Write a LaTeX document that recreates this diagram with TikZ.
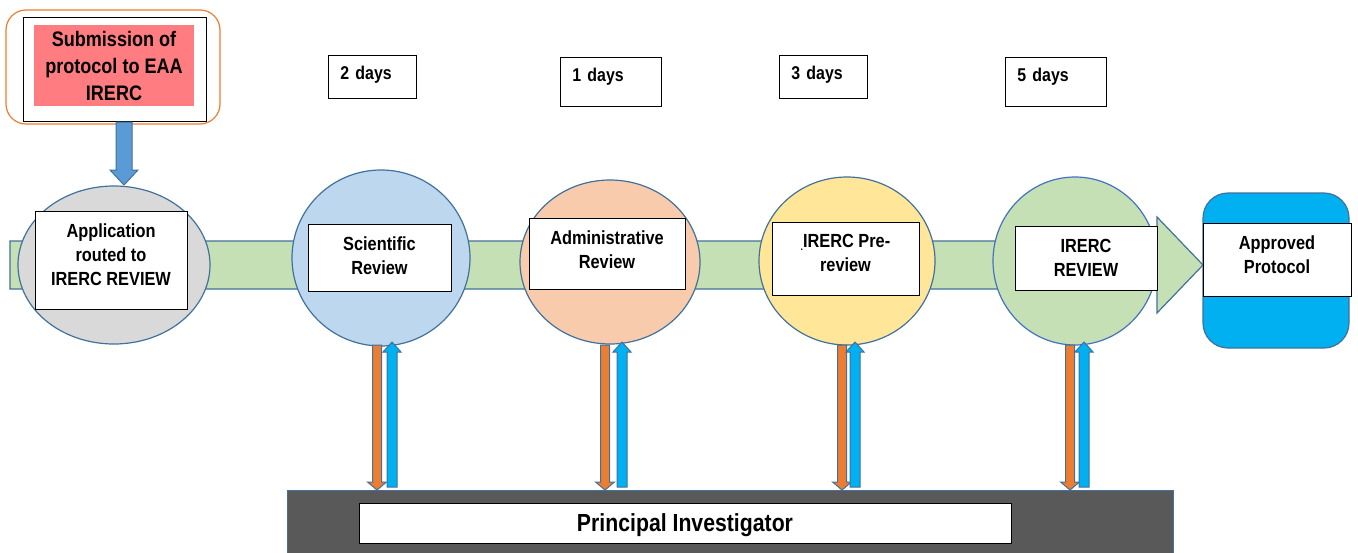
\documentclass[tikz,border=0pt]{standalone}
\usepackage{fontspec}
\setmainfont{Liberation Sans}[FakeStretch=0.86]
\usetikzlibrary{shapes.geometric}
\definecolor{edgeblue}{HTML}{41719C}
\definecolor{bandgreen}{HTML}{C5E0B4}
\definecolor{stagegray}{HTML}{D9D9D9}
\definecolor{stageblue}{HTML}{BDD7EE}
\definecolor{stageorange}{HTML}{F8CBAD}
\definecolor{stageyellow}{HTML}{FFE699}
\definecolor{stagegreen}{HTML}{C5E0B4}
\definecolor{greenedge}{HTML}{4472C4}
\definecolor{arroworange}{HTML}{ED7D31}
\definecolor{arrowcyan}{HTML}{00B0F0}
\definecolor{arrowblue}{HTML}{5B9BD5}
\definecolor{submitpink}{HTML}{FF7C80}
\definecolor{pigray}{HTML}{595959}
% vertical block arrow: x, tail y, tip y, shaft half width, head half width, head length, style
\newcommand{\vblock}[7]{\draw[#7] ({#1-#4},{#2}) -- ({#1-#4},{#3-(#6)}) -- ({#1-#5},{#3-(#6)}) -- ({#1},{#3})
  -- ({#1+#5},{#3-(#6)}) -- ({#1+#4},{#3-(#6)}) -- ({#1+#4},{#2}) -- cycle;}
\begin{document}
\begin{tikzpicture}
        [x=1pt,y=-1pt,line width=1.2pt,
         box_style/.style={draw=black,line width=0.9pt,fill=white,align=center,inner sep=0pt,
           font=\fontsize{19}{24}\selectfont\bfseries},
         stage_style/.style={ellipse,draw=edgeblue,inner sep=0pt},
         day_style/.style={draw=black,line width=0.9pt,fill=white,anchor=north west,align=left,
           inner xsep=12pt,inner ysep=11pt,text height=13pt,
           font=\fontsize{18.5}{20}\selectfont\bfseries},
         down_style/.style={draw=edgeblue,fill=arroworange,line width=1pt},
         up_style/.style={draw=edgeblue,fill=arrowcyan,line width=1pt}]
            \fill[white] (0,0) rectangle (1358,552);
            \useasboundingbox (0,0) rectangle (1358,552);
            % submission
            \node[draw=arroworange,rounded corners=20pt,minimum width=214pt,minimum height=114pt] (sub_frame) at (113,67) {};
            \node[draw=black,line width=0.9pt,fill=white,minimum width=183pt,minimum height=104pt] (sub_box) at (114.5,69) {};
            \node[fill=submitpink,align=center,inner sep=0pt,minimum width=160pt,minimum height=81pt,
              font=\fontsize{21}{27}\selectfont\bfseries] (sub) at (114,65.5) {Submission of\\protocol to EAA\\IRERC};
            % days
            \node[day_style,text width=64pt,text depth=8pt] (d2) at (328,55) {2 days};
            \node[day_style,text width=77pt,text depth=14pt] (d1) at (560,57) {1 days};
            \node[day_style,text width=64pt,text depth=8pt] (d3) at (779,55) {3 days};
            \node[day_style,text width=77pt,text depth=14pt] (d5) at (1005,57) {5 days};
            % main band
            \draw[draw=edgeblue,fill=bandgreen] (10,241) -- (1157,241) -- (1157,217) -- (1203,265)
              -- (1157,313) -- (1157,289) -- (10,289) -- cycle;
            % stages
            \node[stage_style,fill=stagegray,minimum width=192pt,minimum height=158pt] (c0) at (114,265) {};
            \node[stage_style,fill=stageblue,minimum width=178pt,minimum height=176pt] (c1) at (381,258) {};
            \node[stage_style,fill=stageorange,minimum width=180pt,minimum height=164pt] (c2) at (610,262) {};
            \node[stage_style,fill=stageyellow,minimum width=176pt,minimum height=168pt] (c3) at (847,261) {};
            \node[stage_style,draw=greenedge,fill=stagegreen,minimum width=164pt,minimum height=168pt] (c4) at (1075,261) {};
            \node[draw=edgeblue,fill=arrowcyan,rounded corners=25pt,minimum width=146pt,minimum height=155pt] (appr_bg) at (1276,270.5) {};
            \node[box_style,minimum width=152pt,minimum height=98pt,text depth=10pt] (app) at (111,260) {Application\\routed to\\IRERC REVIEW};
            \node[box_style,minimum width=143pt,minimum height=67pt,text depth=4pt] (sci) at (379.5,257.5) {Scientific\\Review};
            \node[box_style,minimum width=156pt,minimum height=71pt,text depth=8pt] (adm) at (607,253.5) {Administrative\\Review};
            \node[box_style,minimum width=147pt,minimum height=73pt,text depth=12pt] (pre) at (845.5,258.5)
              {{\fontsize{10}{10}\selectfont\raisebox{-3pt}{.}}IRERC Pre-\\review};
            \node[box_style,minimum width=142pt,minimum height=64pt] (rev) at (1086,258) {IRERC\\REVIEW};
            \node[box_style,minimum width=148pt,minimum height=73pt,text depth=10pt] (appr) at (1277,259.5) {Approved\\Protocol};
            % principal investigator
            \node[draw=edgeblue,fill=pigray,anchor=north west,minimum width=886pt,minimum height=66pt] (pi_bar) at (287,490) {};
            \node[draw=black,line width=0.9pt,fill=white,minimum width=652pt,minimum height=40pt,text depth=0pt,
              font=\fontsize{24.7}{28}\selectfont\bfseries] (pi) at (685,523) {Principal Investigator};
            % arrows
            \vblock{124}{122}{185}{8}{14}{15}{draw=edgeblue,fill=arrowblue,line width=1pt}
            \foreach \xo/\xb in {377/392,605/622,842/855,1070/1084} {
              \vblock{\xo}{345}{490}{4.5}{9.5}{8}{down_style}
              \vblock{\xb}{487}{342}{5}{9}{-10}{up_style}
            }
        \end{tikzpicture}
\end{document}
